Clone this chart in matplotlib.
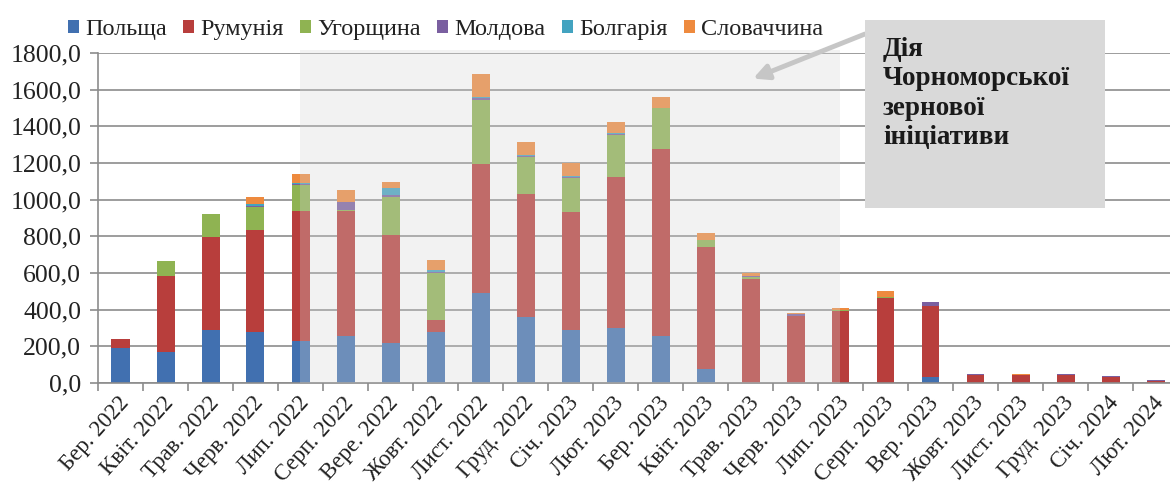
import matplotlib
matplotlib.use('Agg')
import matplotlib.pyplot as plt
from matplotlib.patches import Rectangle
import matplotlib.transforms as mtransforms
import numpy as np

months = ["Бер. 2022", "Квіт. 2022", "Трав. 2022", "Черв. 2022", "Лип. 2022",
          "Серп. 2022", "Вере. 2022", "Жовт. 2022", "Лист. 2022", "Груд. 2022",
          "Січ. 2023", "Лют. 2023", "Бер. 2023", "Квіт. 2023", "Трав. 2023",
          "Черв. 2023", "Лип. 2023", "Серп. 2023", "Вер. 2023", "Жовт. 2023",
          "Лист. 2023", "Груд. 2023", "Січ. 2024", "Лют. 2024"]

series_names = ["Польща", "Румунія", "Угорщина", "Молдова", "Болгарія", "Словаччина"]

poland   = [189, 171, 289, 280, 229, 258, 216, 280, 489, 362, 289, 302, 256, 74, 2, 0, 0, 0, 35, 2, 0, 0, 0, 0]
romania  = [52, 413, 506, 555, 709, 680, 591, 64, 706, 669, 646, 823, 1020, 666, 568, 368, 392, 462, 385, 40, 44, 45, 35, 10]
hungary  = [0, 80, 127, 127, 140, 6, 206, 258, 349, 200, 181, 228, 222, 40, 6, 0, 6, 5, 0, 0, 0, 0, 0, 0]
moldova  = [0, 0, 0, 5, 10, 43, 15, 4, 12, 8, 5, 4, 1, 0, 5, 6, 0, 0, 24, 5, 0, 4, 5, 6]
bulgaria = [0, 0, 0, 8, 5, 2, 33, 8, 6, 5, 8, 4, 1, 0, 3, 0, 0, 0, 0, 0, 0, 0, 0, 0]
slovakia = [0, 0, 0, 38, 45, 64, 37, 57, 123, 72, 69, 60, 60, 40, 15, 6, 13, 37, 0, 2, 5, 0, 0, 0]

yticks = [0, 200, 400, 600, 800, 1000, 1200, 1400, 1600, 1800]

colors = ["#4170B0", "#B83E3C", "#8FB352", "#7A5FA0", "#43A3C0", "#EE8A3E"]

annotation_text = "Дія\nЧорноморської\nзернової\nініціативи"

plt.rcParams['font.family'] = ['Liberation Serif', 'DejaVu Serif']

W, H = 1170, 493
fig = plt.figure(figsize=(W / 100, H / 100), dpi=100)
ax = fig.add_axes([98 / W, 110 / H, 1080 / W, 330 / H])

x = np.arange(len(months))
data = [poland, romania, hungary, moldova, bulgaria, slovakia]
bottom = np.zeros(len(months))
handles = []
for vals, col, name in zip(data, colors, series_names):
    v = np.array(vals, dtype=float)
    b = ax.bar(x, v, width=0.4, bottom=bottom, color=col, zorder=2, label=name,
               linewidth=0)
    handles.append(b)
    bottom += v

ax.set_xlim(-0.5, len(months) - 0.5)
ax.set_ylim(0, 1800)
ax.set_yticks(yticks)
ax.set_yticklabels([f"{v:.1f}".replace('.', ',') for v in yticks])
ax.yaxis.grid(True, color='#8c8c8c', linewidth=1.2, zorder=0)
ax.set_axisbelow(True)

ax.set_xticks(np.arange(-0.5, len(months), 1.0))
ax.set_xticklabels([])
ax.set_xticks(x, minor=True)
ax.set_xticklabels(months, minor=True, rotation=48, ha='right', va='top',
                   rotation_mode='anchor', fontsize=16.5, color='#222222')
ax.tick_params(axis='x', which='major', length=6, color='#8c8c8c', width=1.2)
ax.tick_params(axis='x', which='minor', length=0, pad=7)
ax.tick_params(axis='y', length=6, color='#8c8c8c', width=1.2, labelsize=18.5,
               labelcolor='#222222', pad=6)
for lab in ax.get_xticklabels(minor=True):
    lab.set_transform(lab.get_transform() + mtransforms.ScaledTranslation(-3 / 100, 0, fig.dpi_scale_trans))

for s in ['top', 'right']:
    ax.spines[s].set_visible(False)
for s in ['left', 'bottom']:
    ax.spines[s].set_color('#8c8c8c')
    ax.spines[s].set_linewidth(1.2)

# translucent highlight of the Black Sea Grain Initiative period
ax.add_patch(Rectangle((3.98, 0), 12.0, 1815, facecolor='#d4d4d4', alpha=0.3,
                       edgecolor='none', zorder=3, clip_on=False))

# arrow
ax.annotate('', xy=(14.0, 1655), xytext=(16.6, 1909),
            arrowprops=dict(arrowstyle='-|>,head_length=0.9,head_width=0.45',
                            color='#c6c6c6', lw=3.5),
            annotation_clip=False, zorder=4)

# annotation box
ax.add_patch(Rectangle((0.7102, 0.530), 0.2222, 0.570, transform=ax.transAxes,
                       facecolor='#d9d9d9', edgecolor='none', zorder=5, clip_on=False))
ax.text(0.7269, 1.048, annotation_text, transform=ax.transAxes, va='top', ha='left',
        fontsize=19.5, fontweight='bold', linespacing=1.22, color='#1a1a1a', zorder=6)

leg = ax.legend(handles, series_names, ncol=6, loc='upper left',
                bbox_to_anchor=(68 / W, 1 - 19 / H), bbox_transform=fig.transFigure,
                frameon=False, handlelength=0.45, handleheight=0.45,
                handletextpad=0.25, columnspacing=0.68, fontsize=17.5,
                borderaxespad=0, borderpad=0)
for t in leg.get_texts():
    t.set_color('#222222')

fig.savefig('out.png', dpi=100)
